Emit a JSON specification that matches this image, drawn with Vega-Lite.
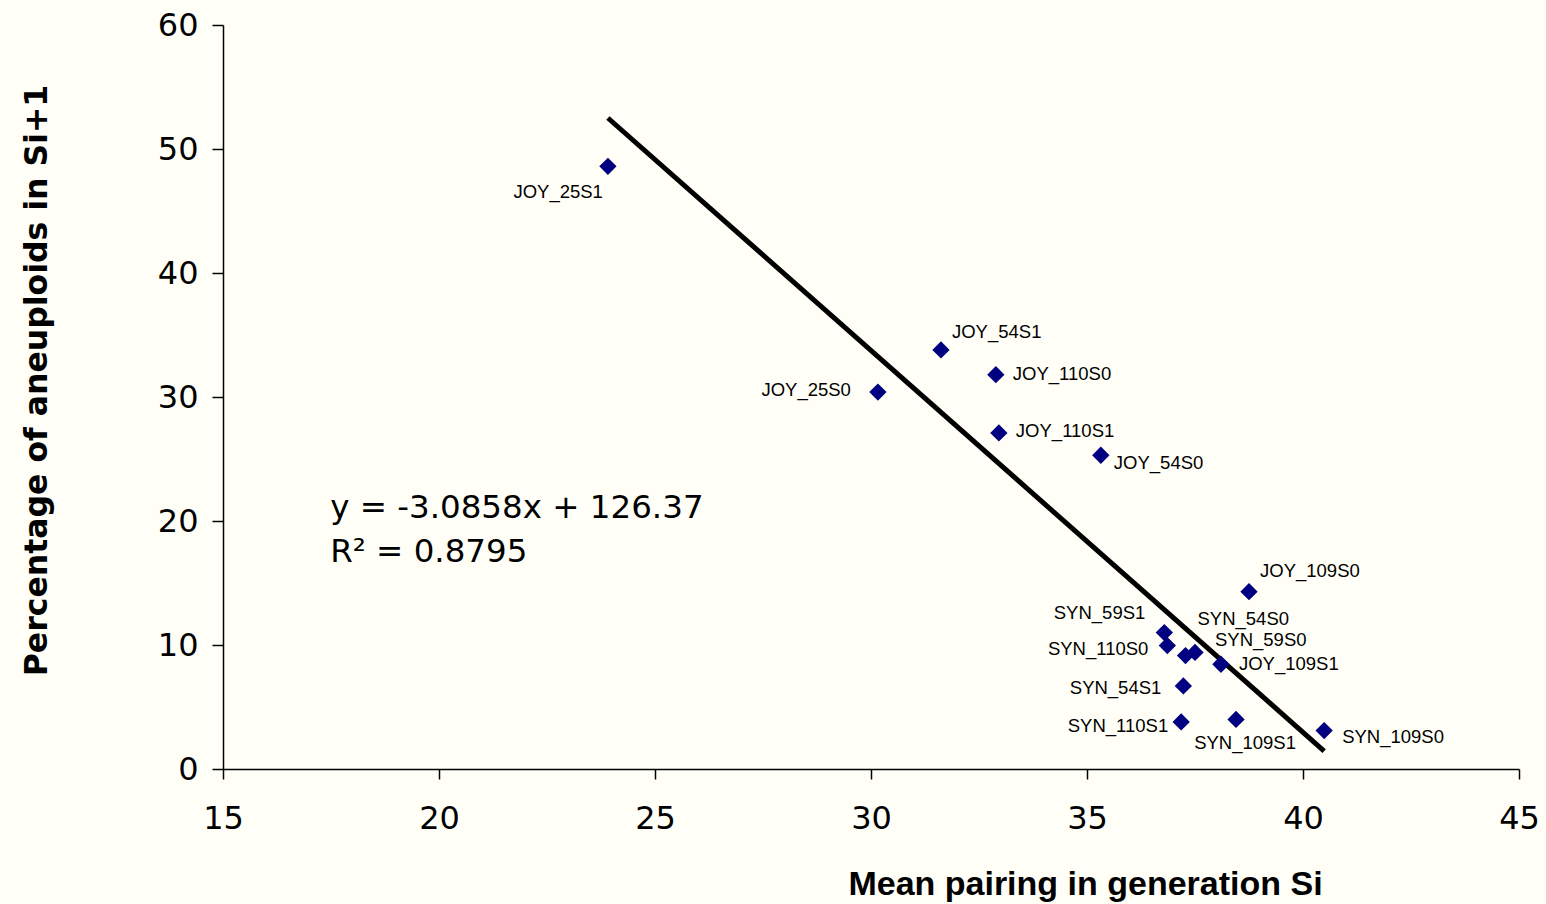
{
  "$schema": "https://vega.github.io/schema/vega-lite/v6.json",
  "autosize": {"type": "none"},
  "padding": {"left": 223, "top": 25, "right": 27, "bottom": 135},
  "width": 1296,
  "height": 744,
  "background": "#FFFFF7",
  "config": {
    "view": {"stroke": null},
    "axis": {"grid": false, "domainColor": "#000000", "tickColor": "#000000", "domainWidth": 1.5, "tickWidth": 1.5, "labelColor": "#000000", "titleColor": "#000000", "labelFlush": false}
  },
  "datasets": {
    "pts": [
      {"label": "JOY_25S1", "pairing": 23.91, "aneuploids": 48.6},
      {"label": "JOY_25S0", "pairing": 30.16, "aneuploids": 30.4},
      {"label": "JOY_54S1", "pairing": 31.62, "aneuploids": 33.8},
      {"label": "JOY_110S0", "pairing": 32.89, "aneuploids": 31.8},
      {"label": "JOY_110S1", "pairing": 32.96, "aneuploids": 27.1},
      {"label": "JOY_54S0", "pairing": 35.32, "aneuploids": 25.3},
      {"label": "JOY_109S0", "pairing": 38.75, "aneuploids": 14.3},
      {"label": "SYN_59S1", "pairing": 36.79, "aneuploids": 11.0},
      {"label": "SYN_110S0", "pairing": 36.86, "aneuploids": 9.95},
      {"label": "SYN_54S0", "pairing": 37.28, "aneuploids": 9.15},
      {"label": "SYN_59S0", "pairing": 37.5, "aneuploids": 9.4},
      {"label": "JOY_109S1", "pairing": 38.1, "aneuploids": 8.45},
      {"label": "SYN_54S1", "pairing": 37.23, "aneuploids": 6.7},
      {"label": "SYN_110S1", "pairing": 37.18, "aneuploids": 3.8},
      {"label": "SYN_109S1", "pairing": 38.45, "aneuploids": 4.0},
      {"label": "SYN_109S0", "pairing": 40.49, "aneuploids": 3.1}
    ],
    "trend": [
      {"pairing": 23.91, "aneuploids": 52.5},
      {"pairing": 40.49, "aneuploids": 1.45}
    ],
    "eq": [
      {"line": "y = -3.0858x + 126.37", "ex": 17.48, "ey": 21.05},
      {"line": "R² = 0.8795", "ex": 17.48, "ey": 17.5}
    ]
  },
  "layer": [
    {
      "data": {"name": "trend"},
      "mark": {"type": "line", "color": "#000000", "strokeWidth": 5, "strokeCap": "butt"},
      "encoding": {
        "x": {"field": "pairing", "type": "quantitative", "scale": {"domain": [15, 45], "nice": false, "zero": false},
          "axis": {"values": [15, 20, 25, 30, 35, 40, 45], "tickSize": 10, "labelFont": "DejaVu Sans", "labelFontSize": 32, "labelPadding": 24,
            "title": "Mean pairing in generation Si", "titleFont": "Liberation Sans", "titleFontSize": 34, "titleFontWeight": "bold",
            "titleX": 862, "titleY": 115, "titleBaseline": "middle", "titleAlign": "center", "titleAnchor": null}},
        "y": {"field": "aneuploids", "type": "quantitative", "scale": {"domain": [0, 60], "nice": false},
          "axis": {"values": [0, 10, 20, 30, 40, 50, 60], "tickSize": 11, "labelFont": "DejaVu Sans", "labelFontSize": 32, "labelPadding": 14,
            "title": "Percentage of aneuploids in Si+1", "titleFont": "DejaVu Sans", "titleFontSize": 31.5, "titleFontWeight": "bold",
            "titleX": -186, "titleY": 355, "titleAngle": 270, "titleBaseline": "middle", "titleAlign": "center", "titleAnchor": null}}
      }
    },
    {
      "data": {"name": "pts"},
      "mark": {"type": "point", "shape": "diamond", "filled": true, "color": "#000080", "size": 300, "opacity": 1},
      "encoding": {
        "x": {"field": "pairing", "type": "quantitative"},
        "y": {"field": "aneuploids", "type": "quantitative"}
      }
    },
    {"data": {"name": "pts"}, "transform": [{"filter": {"field": "label", "equal": "JOY_25S1"}}],
     "mark": {"type": "text", "font": "Liberation Sans", "fontSize": 18.5, "color": "#000000", "align": "right", "baseline": "middle", "dx": -5, "dy": 26},
     "encoding": {"x": {"field": "pairing", "type": "quantitative"}, "y": {"field": "aneuploids", "type": "quantitative"}, "text": {"field": "label"}}},
    {"data": {"name": "pts"}, "transform": [{"filter": {"field": "label", "equal": "JOY_25S0"}}],
     "mark": {"type": "text", "font": "Liberation Sans", "fontSize": 18.5, "color": "#000000", "align": "right", "baseline": "middle", "dx": -27, "dy": -2},
     "encoding": {"x": {"field": "pairing", "type": "quantitative"}, "y": {"field": "aneuploids", "type": "quantitative"}, "text": {"field": "label"}}},
    {"data": {"name": "pts"}, "transform": [{"filter": {"field": "label", "equal": "JOY_54S1"}}],
     "mark": {"type": "text", "font": "Liberation Sans", "fontSize": 18.5, "color": "#000000", "align": "left", "baseline": "middle", "dx": 11, "dy": -18},
     "encoding": {"x": {"field": "pairing", "type": "quantitative"}, "y": {"field": "aneuploids", "type": "quantitative"}, "text": {"field": "label"}}},
    {"data": {"name": "pts"}, "transform": [{"filter": {"field": "label", "equal": "JOY_110S0"}}],
     "mark": {"type": "text", "font": "Liberation Sans", "fontSize": 18.5, "color": "#000000", "align": "left", "baseline": "middle", "dx": 17, "dy": -1},
     "encoding": {"x": {"field": "pairing", "type": "quantitative"}, "y": {"field": "aneuploids", "type": "quantitative"}, "text": {"field": "label"}}},
    {"data": {"name": "pts"}, "transform": [{"filter": {"field": "label", "equal": "JOY_110S1"}}],
     "mark": {"type": "text", "font": "Liberation Sans", "fontSize": 18.5, "color": "#000000", "align": "left", "baseline": "middle", "dx": 17, "dy": -2},
     "encoding": {"x": {"field": "pairing", "type": "quantitative"}, "y": {"field": "aneuploids", "type": "quantitative"}, "text": {"field": "label"}}},
    {"data": {"name": "pts"}, "transform": [{"filter": {"field": "label", "equal": "JOY_54S0"}}],
     "mark": {"type": "text", "font": "Liberation Sans", "fontSize": 18.5, "color": "#000000", "align": "left", "baseline": "middle", "dx": 13, "dy": 8},
     "encoding": {"x": {"field": "pairing", "type": "quantitative"}, "y": {"field": "aneuploids", "type": "quantitative"}, "text": {"field": "label"}}},
    {"data": {"name": "pts"}, "transform": [{"filter": {"field": "label", "equal": "JOY_109S0"}}],
     "mark": {"type": "text", "font": "Liberation Sans", "fontSize": 18.5, "color": "#000000", "align": "left", "baseline": "middle", "dx": 11, "dy": -21},
     "encoding": {"x": {"field": "pairing", "type": "quantitative"}, "y": {"field": "aneuploids", "type": "quantitative"}, "text": {"field": "label"}}},
    {"data": {"name": "pts"}, "transform": [{"filter": {"field": "label", "equal": "SYN_59S1"}}],
     "mark": {"type": "text", "font": "Liberation Sans", "fontSize": 18.5, "color": "#000000", "align": "right", "baseline": "middle", "dx": -19, "dy": -20},
     "encoding": {"x": {"field": "pairing", "type": "quantitative"}, "y": {"field": "aneuploids", "type": "quantitative"}, "text": {"field": "label"}}},
    {"data": {"name": "pts"}, "transform": [{"filter": {"field": "label", "equal": "SYN_110S0"}}],
     "mark": {"type": "text", "font": "Liberation Sans", "fontSize": 18.5, "color": "#000000", "align": "right", "baseline": "middle", "dx": -19, "dy": 3},
     "encoding": {"x": {"field": "pairing", "type": "quantitative"}, "y": {"field": "aneuploids", "type": "quantitative"}, "text": {"field": "label"}}},
    {"data": {"name": "pts"}, "transform": [{"filter": {"field": "label", "equal": "SYN_54S0"}}],
     "mark": {"type": "text", "font": "Liberation Sans", "fontSize": 18.5, "color": "#000000", "align": "left", "baseline": "middle", "dx": 12, "dy": -37},
     "encoding": {"x": {"field": "pairing", "type": "quantitative"}, "y": {"field": "aneuploids", "type": "quantitative"}, "text": {"field": "label"}}},
    {"data": {"name": "pts"}, "transform": [{"filter": {"field": "label", "equal": "SYN_59S0"}}],
     "mark": {"type": "text", "font": "Liberation Sans", "fontSize": 18.5, "color": "#000000", "align": "left", "baseline": "middle", "dx": 20, "dy": -12},
     "encoding": {"x": {"field": "pairing", "type": "quantitative"}, "y": {"field": "aneuploids", "type": "quantitative"}, "text": {"field": "label"}}},
    {"data": {"name": "pts"}, "transform": [{"filter": {"field": "label", "equal": "JOY_109S1"}}],
     "mark": {"type": "text", "font": "Liberation Sans", "fontSize": 18.5, "color": "#000000", "align": "left", "baseline": "middle", "dx": 18, "dy": 0},
     "encoding": {"x": {"field": "pairing", "type": "quantitative"}, "y": {"field": "aneuploids", "type": "quantitative"}, "text": {"field": "label"}}},
    {"data": {"name": "pts"}, "transform": [{"filter": {"field": "label", "equal": "SYN_54S1"}}],
     "mark": {"type": "text", "font": "Liberation Sans", "fontSize": 18.5, "color": "#000000", "align": "right", "baseline": "middle", "dx": -22, "dy": 2},
     "encoding": {"x": {"field": "pairing", "type": "quantitative"}, "y": {"field": "aneuploids", "type": "quantitative"}, "text": {"field": "label"}}},
    {"data": {"name": "pts"}, "transform": [{"filter": {"field": "label", "equal": "SYN_110S1"}}],
     "mark": {"type": "text", "font": "Liberation Sans", "fontSize": 18.5, "color": "#000000", "align": "right", "baseline": "middle", "dx": -13, "dy": 4},
     "encoding": {"x": {"field": "pairing", "type": "quantitative"}, "y": {"field": "aneuploids", "type": "quantitative"}, "text": {"field": "label"}}},
    {"data": {"name": "pts"}, "transform": [{"filter": {"field": "label", "equal": "SYN_109S1"}}],
     "mark": {"type": "text", "font": "Liberation Sans", "fontSize": 18.5, "color": "#000000", "align": "center", "baseline": "middle", "dx": 9, "dy": 24},
     "encoding": {"x": {"field": "pairing", "type": "quantitative"}, "y": {"field": "aneuploids", "type": "quantitative"}, "text": {"field": "label"}}},
    {"data": {"name": "pts"}, "transform": [{"filter": {"field": "label", "equal": "SYN_109S0"}}],
     "mark": {"type": "text", "font": "Liberation Sans", "fontSize": 18.5, "color": "#000000", "align": "left", "baseline": "middle", "dx": 18, "dy": 6},
     "encoding": {"x": {"field": "pairing", "type": "quantitative"}, "y": {"field": "aneuploids", "type": "quantitative"}, "text": {"field": "label"}}},
    {
      "data": {"name": "eq"},
      "mark": {"type": "text", "font": "DejaVu Sans", "fontSize": 32.5, "color": "#000000", "align": "left", "baseline": "middle"},
      "encoding": {"x": {"field": "ex", "type": "quantitative"}, "y": {"field": "ey", "type": "quantitative"}, "text": {"field": "line"}}
    }
  ]
}
